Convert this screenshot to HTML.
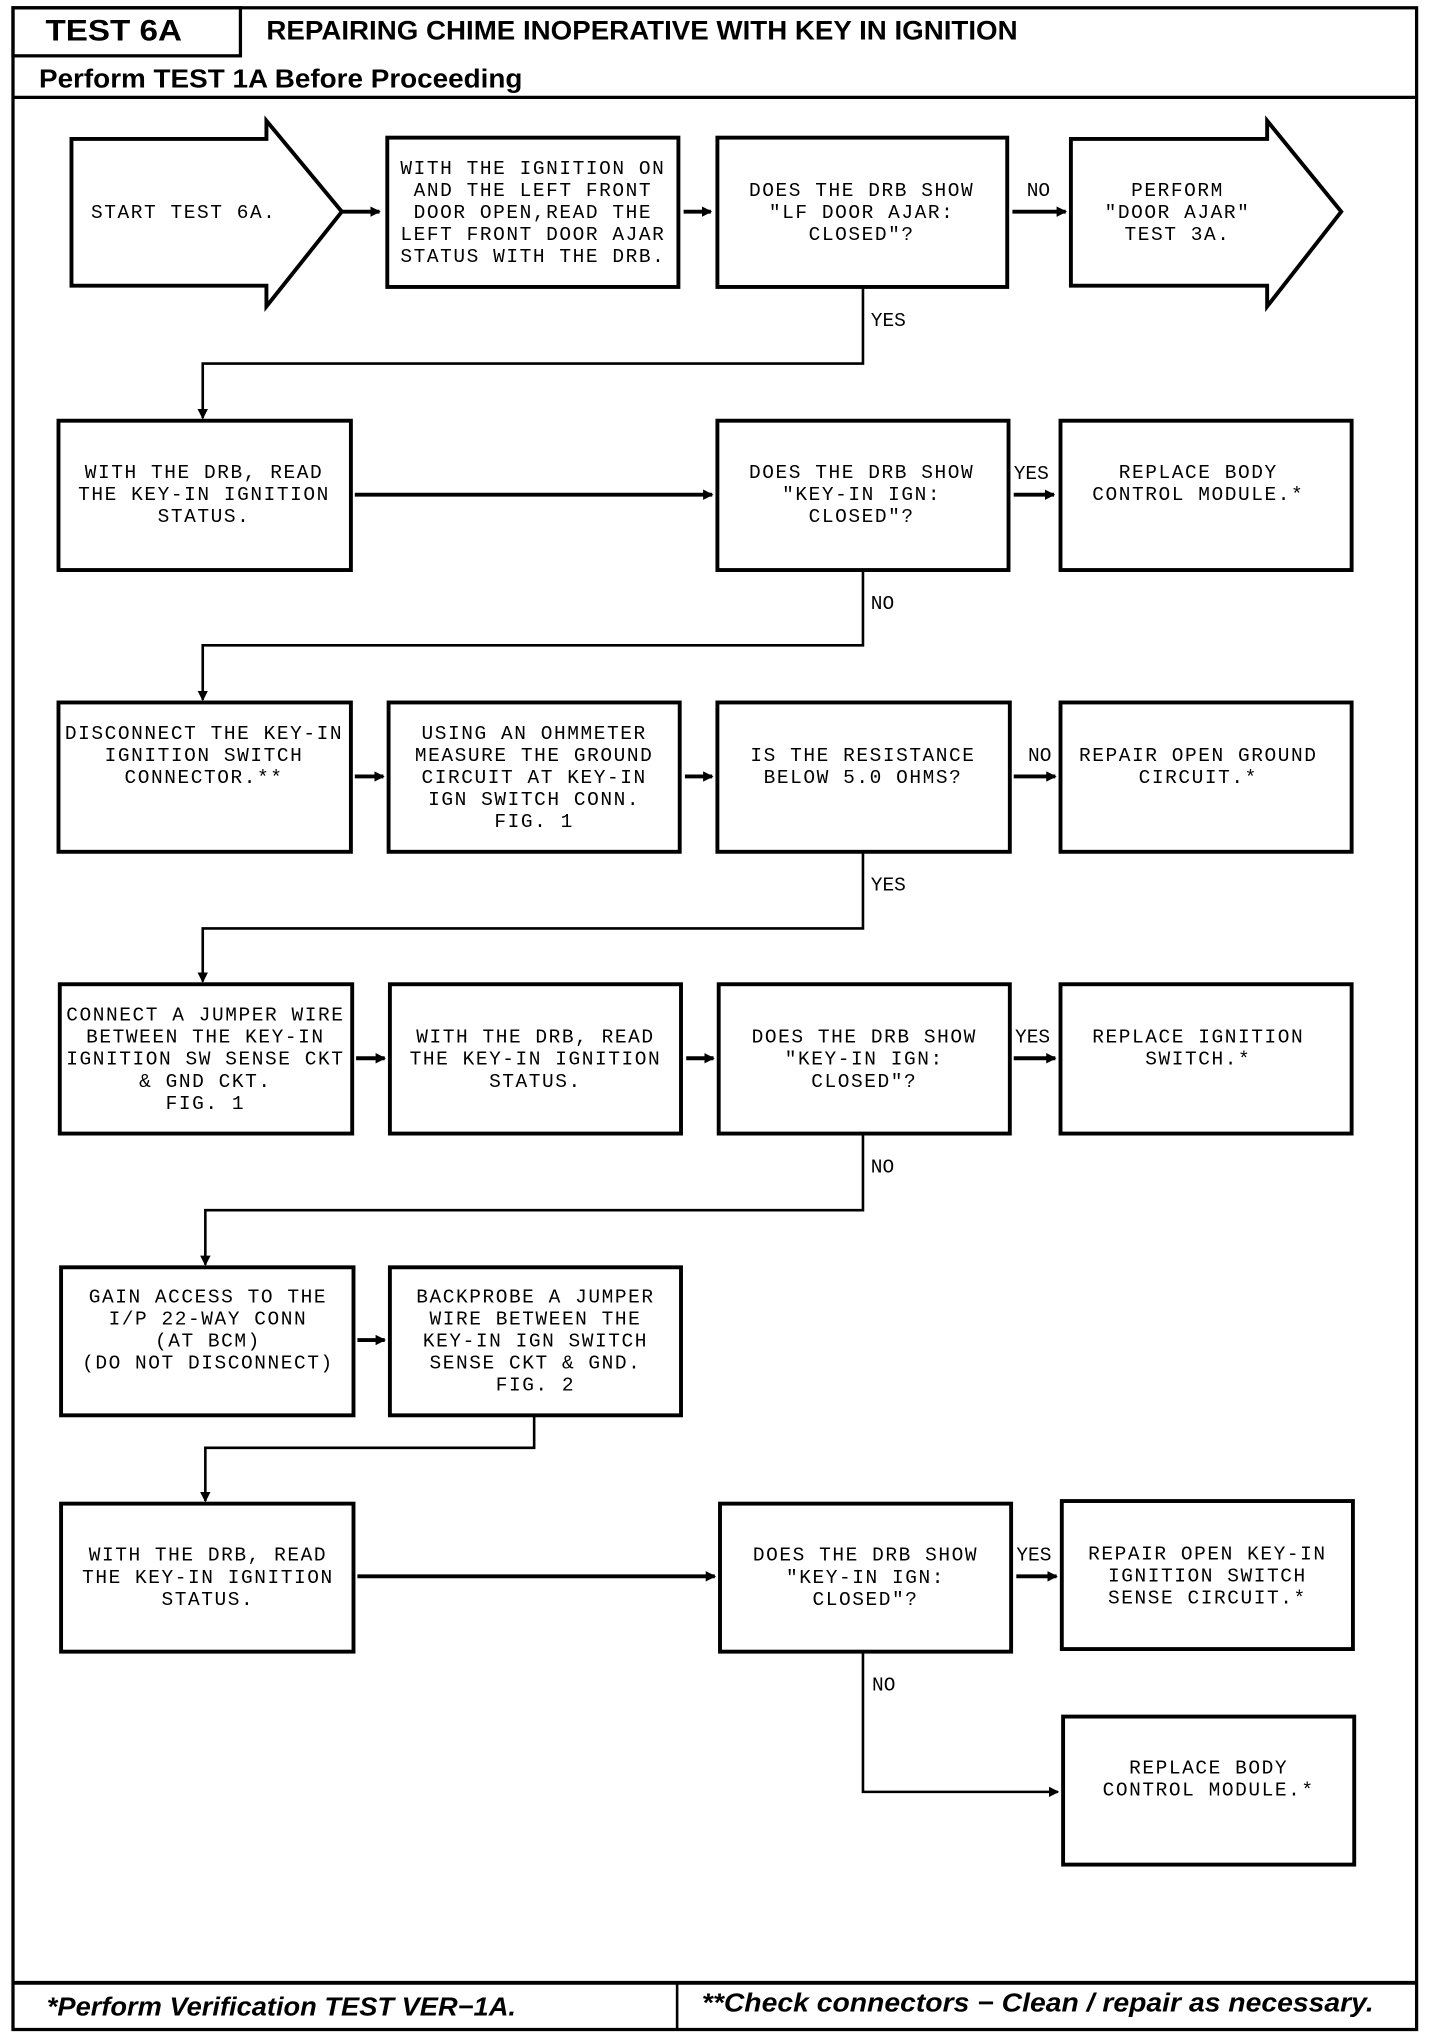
<!DOCTYPE html>
<html><head><meta charset="utf-8"><style>
html,body{margin:0;padding:0;background:#fff;}
svg{display:block;}
.t{font-family:"Liberation Mono",monospace;font-size:15px;letter-spacing:1.2px;text-anchor:middle;dominant-baseline:middle;fill:#000;}
.l{font-family:"Liberation Mono",monospace;font-size:15px;dominant-baseline:middle;fill:#000;}
.b{fill:#fff;stroke:#000;stroke-width:3;}
.c{fill:none;stroke:#000;stroke-width:2;}
.a{fill:none;stroke:#000;stroke-width:3;}
.h{font-family:'Liberation Sans',sans-serif;font-weight:bold;dominant-baseline:middle;}
</style></head><body>
<svg width="1440" height="2036" viewBox="0 0 1108 1568" preserveAspectRatio="none" xmlns="http://www.w3.org/2000/svg">
<defs><marker id="ah" markerWidth="8" markerHeight="8" refX="7" refY="4" orient="auto" markerUnits="userSpaceOnUse"><path d="M0,0 L8,4 L0,8 z" fill="#000"/></marker></defs>
<rect x="10" y="6" width="1080" height="1557" fill="none" stroke="#000" stroke-width="2.5"/>
<rect x="10" y="6" width="175" height="37" fill="none" stroke="#000" stroke-width="2.5"/>
<text class="h" x="35" y="25" style="font-size:23px" textLength="105" lengthAdjust="spacingAndGlyphs">TEST 6A</text>
<text class="h" x="205" y="25" style="font-size:21px" textLength="578" lengthAdjust="spacingAndGlyphs">REPAIRING CHIME INOPERATIVE WITH KEY IN IGNITION</text>
<text class="h" x="30" y="62" style="font-size:20px" textLength="372" lengthAdjust="spacingAndGlyphs">Perform TEST 1A Before Proceeding</text>
<line x1="10" y1="75" x2="1090" y2="75" stroke="#000" stroke-width="2.5"/>

<!-- Row1 -->
<polygon class="b" points="55,107 205,107 205,93 263,163 205,236 205,220 55,220"/>
<text class="l" x="70" y="164" style="letter-spacing:1.2px">START TEST 6A.</text>
<line class="a" x1="263" y1="163" x2="292" y2="163" marker-end="url(#ah)"/>
<rect class="b" x="298" y="106" width="224" height="115"/>
<text class="t" x="410" y="130">WITH THE IGNITION ON</text>
<text class="t" x="410" y="147">AND THE LEFT FRONT</text>
<text class="t" x="410" y="164">DOOR OPEN,READ THE</text>
<text class="t" x="410" y="181">LEFT FRONT DOOR AJAR</text>
<text class="t" x="410" y="198">STATUS WITH THE DRB.</text>
<line class="a" x1="526" y1="163" x2="547" y2="163" marker-end="url(#ah)"/>
<rect class="b" x="552" y="106" width="223" height="115"/>
<text class="t" x="663" y="147">DOES THE DRB SHOW</text>
<text class="t" x="663" y="164">"LF DOOR AJAR:</text>
<text class="t" x="663" y="181">CLOSED"?</text>
<text class="l" x="790" y="147">NO</text>
<line class="a" x1="779" y1="163" x2="820" y2="163" marker-end="url(#ah)"/>
<polygon class="b" points="824,107 975,107 975,93 1032,163 975,236 975,220 824,220"/>
<text class="t" x="906" y="147">PERFORM</text>
<text class="t" x="906" y="164">"DOOR AJAR"</text>
<text class="t" x="906" y="181">TEST 3A.</text>
<text class="l" x="670" y="247">YES</text>
<polyline class="c" points="664,221 664,280 156,280 156,322" marker-end="url(#ah)"/>

<!-- Row2 -->
<rect class="b" x="45" y="324" width="225" height="115"/>
<text class="t" x="157" y="364">WITH THE DRB, READ</text>
<text class="t" x="157" y="381">THE KEY-IN IGNITION</text>
<text class="t" x="157" y="398">STATUS.</text>
<line class="a" x1="273" y1="381" x2="548" y2="381" marker-end="url(#ah)"/>
<rect class="b" x="552" y="324" width="224" height="115"/>
<text class="t" x="663" y="364">DOES THE DRB SHOW</text>
<text class="t" x="663" y="381">"KEY-IN IGN:</text>
<text class="t" x="663" y="398">CLOSED"?</text>
<text class="l" x="780" y="365">YES</text>
<line class="a" x1="780" y1="381" x2="811" y2="381" marker-end="url(#ah)"/>
<rect class="b" x="816" y="324" width="224" height="115"/>
<text class="t" x="922" y="364">REPLACE BODY</text>
<text class="t" x="922" y="381">CONTROL MODULE.*</text>
<text class="l" x="670" y="465">NO</text>
<polyline class="c" points="664,439 664,497 156,497 156,539" marker-end="url(#ah)"/>

<!-- Row3 -->
<rect class="b" x="45" y="541" width="225" height="115"/>
<text class="t" x="157" y="565">DISCONNECT THE KEY-IN</text>
<text class="t" x="157" y="582">IGNITION SWITCH</text>
<text class="t" x="157" y="599">CONNECTOR.**</text>
<line class="a" x1="273" y1="598" x2="295" y2="598" marker-end="url(#ah)"/>
<rect class="b" x="299" y="541" width="224" height="115"/>
<text class="t" x="411" y="565">USING AN OHMMETER</text>
<text class="t" x="411" y="582">MEASURE THE GROUND</text>
<text class="t" x="411" y="599">CIRCUIT AT KEY-IN</text>
<text class="t" x="411" y="616">IGN SWITCH CONN.</text>
<text class="t" x="411" y="633">FIG. 1</text>
<line class="a" x1="527" y1="598" x2="548" y2="598" marker-end="url(#ah)"/>
<rect class="b" x="552" y="541" width="225" height="115"/>
<text class="t" x="664" y="582">IS THE RESISTANCE</text>
<text class="t" x="664" y="599">BELOW 5.0 OHMS?</text>
<text class="l" x="791" y="582">NO</text>
<line class="a" x1="780" y1="598" x2="812" y2="598" marker-end="url(#ah)"/>
<rect class="b" x="816" y="541" width="224" height="115"/>
<text class="t" x="922" y="582">REPAIR OPEN GROUND</text>
<text class="t" x="922" y="599">CIRCUIT.*</text>
<text class="l" x="670" y="682">YES</text>
<polyline class="c" points="664,656 664,715 156,715 156,756" marker-end="url(#ah)"/>

<!-- Row4 -->
<rect class="b" x="46" y="758" width="225" height="115"/>
<text class="t" x="158" y="782">CONNECT A JUMPER WIRE</text>
<text class="t" x="158" y="799">BETWEEN THE KEY-IN</text>
<text class="t" x="158" y="816">IGNITION SW SENSE CKT</text>
<text class="t" x="158" y="833">&amp; GND CKT.</text>
<text class="t" x="158" y="850">FIG. 1</text>
<line class="a" x1="274" y1="815" x2="296" y2="815" marker-end="url(#ah)"/>
<rect class="b" x="300" y="758" width="224" height="115"/>
<text class="t" x="412" y="799">WITH THE DRB, READ</text>
<text class="t" x="412" y="816">THE KEY-IN IGNITION</text>
<text class="t" x="412" y="833">STATUS.</text>
<line class="a" x1="528" y1="815" x2="549" y2="815" marker-end="url(#ah)"/>
<rect class="b" x="553" y="758" width="224" height="115"/>
<text class="t" x="665" y="799">DOES THE DRB SHOW</text>
<text class="t" x="665" y="816">"KEY-IN IGN:</text>
<text class="t" x="665" y="833">CLOSED"?</text>
<text class="l" x="781" y="799">YES</text>
<line class="a" x1="780" y1="815" x2="812" y2="815" marker-end="url(#ah)"/>
<rect class="b" x="816" y="758" width="224" height="115"/>
<text class="t" x="922" y="799">REPLACE IGNITION</text>
<text class="t" x="922" y="816">SWITCH.*</text>
<text class="l" x="670" y="899">NO</text>
<polyline class="c" points="664,873 664,932 158,932 158,974" marker-end="url(#ah)"/>

<!-- Row5 -->
<rect class="b" x="47" y="976" width="225" height="114"/>
<text class="t" x="160" y="999">GAIN ACCESS TO THE</text>
<text class="t" x="160" y="1016">I/P 22-WAY CONN</text>
<text class="t" x="160" y="1033">(AT BCM)</text>
<text class="t" x="160" y="1050">(DO NOT DISCONNECT)</text>
<line class="a" x1="275" y1="1032" x2="296" y2="1032" marker-end="url(#ah)"/>
<rect class="b" x="300" y="976" width="224" height="114"/>
<text class="t" x="412" y="999">BACKPROBE A JUMPER</text>
<text class="t" x="412" y="1016">WIRE BETWEEN THE</text>
<text class="t" x="412" y="1033">KEY-IN IGN SWITCH</text>
<text class="t" x="412" y="1050">SENSE CKT &amp; GND.</text>
<text class="t" x="412" y="1067">FIG. 2</text>
<polyline class="c" points="411,1090 411,1115 158,1115 158,1156" marker-end="url(#ah)"/>

<!-- Row6 -->
<rect class="b" x="47" y="1158" width="225" height="114"/>
<text class="t" x="160" y="1198">WITH THE DRB, READ</text>
<text class="t" x="160" y="1215">THE KEY-IN IGNITION</text>
<text class="t" x="160" y="1232">STATUS.</text>
<line class="a" x1="275" y1="1214" x2="550" y2="1214" marker-end="url(#ah)"/>
<rect class="b" x="554" y="1158" width="224" height="114"/>
<text class="t" x="666" y="1198">DOES THE DRB SHOW</text>
<text class="t" x="666" y="1215">"KEY-IN IGN:</text>
<text class="t" x="666" y="1232">CLOSED"?</text>
<text class="l" x="782" y="1198">YES</text>
<line class="a" x1="782" y1="1214" x2="813" y2="1214" marker-end="url(#ah)"/>
<rect class="b" x="817" y="1156" width="224" height="114"/>
<text class="t" x="929" y="1197">REPAIR OPEN KEY-IN</text>
<text class="t" x="929" y="1214">IGNITION SWITCH</text>
<text class="t" x="929" y="1231">SENSE CIRCUIT.*</text>
<text class="l" x="671" y="1298">NO</text>
<polyline class="c" points="664,1272 664,1380 814,1380" marker-end="url(#ah)"/>
<rect class="b" x="818" y="1322" width="224" height="114"/>
<text class="t" x="930" y="1362">REPLACE BODY</text>
<text class="t" x="930" y="1379">CONTROL MODULE.*</text>

<!-- Footer -->
<line x1="10" y1="1527" x2="1090" y2="1527" stroke="#000" stroke-width="3"/>
<line x1="521" y1="1527" x2="521" y2="1563" stroke="#000" stroke-width="2"/>
<text class="h" x="36" y="1547" style="font-style:italic;font-size:20px" textLength="361" lengthAdjust="spacingAndGlyphs">*Perform Verification TEST VER−1A.</text>
<text class="h" x="540" y="1544" style="font-style:italic;font-size:20px" textLength="517" lengthAdjust="spacingAndGlyphs">**Check connectors  −  Clean / repair as necessary.</text>
</svg>
</body></html>
